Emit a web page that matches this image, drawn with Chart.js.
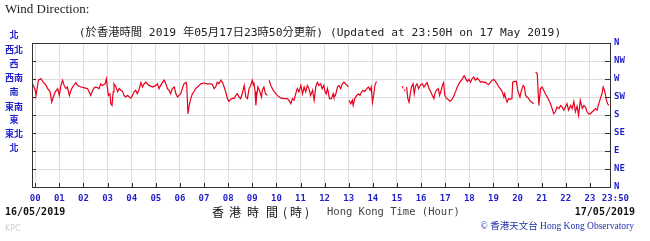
<!DOCTYPE html>
<html>
<head>
<meta charset="utf-8">
<script src="https://cdn.jsdelivr.net/npm/chart.js@4/dist/chart.umd.min.js"></script>
<style>
  html, body { margin: 0; padding: 0; background: #fff; }
  canvas { display: block; }
</style>
</head>
<body>
<canvas id="windChart" width="650" height="241"></canvas>
<script>
// minutes after 00:00 HKT, wind direction in degrees (null = no data)
var minutes = [-8, 0, 2, 8, 14, 20, 27, 31, 37, 41, 45, 50, 56, 60, 64, 68, 72, 76, 80, 85, 89, 93, 101, 105, 114, 122, 130, 134, 138, 143, 147, 151, 159, 163, 167, 174, 177, 180, 182, 186, 188, 191, 194, 196, 201, 205, 209, 213, 217, 221, 225, 230, 234, 238, 242, 246, 250, 254, 259, 263, 267, 271, 275, 283, 292, 300, 304, 308, 312, 317, 321, 325, 329, 333, 337, 341, 346, 350, 354, 358,
  362, 366, 370, 375, 377, 380, 383, 387, 391, 395, 399, 404, 408, 412, 420, 428, 437, 441, 445, 449, 453, 457, 462, 466, 470, 474, 478, 482, 486, 491, 495, 499, 503, 507, 511, 515, 520, 524, 528, 532, 536, 540, 543, 544, 547, 549, 551, 554, 559, 563, 565, 569, 573, 578, 580,
  582, 586, 590, 594, 602, 611, 619, 627, 631, 636, 640, 644, 648, 652, 656, 661, 665, 669, 673, 677, 681, 685, 690, 694, 698, 702, 706, 710, 714, 718,
  721, 724, 727, 729, 732, 737, 741, 743, 747, 752, 756, 760, 764, 768, 772, 776, 779, 780,
  781, 785, 789, 791, 795, 800, 804, 808, 812, 816, 820, 825, 829, 833, 836, 839, 842, 845, 849, 880,
  913, 914, 916, 918, 919, 921, 924, 927, 930, 933, 936, 940, 943, 946, 950, 954, 959, 963, 967, 971, 975, 979, 984, 988, 992, 994, 998, 1003, 1006, 1009, 1013, 1016, 1019, 1023, 1027, 1032, 1037, 1042, 1046, 1050, 1054, 1058, 1062, 1067, 1071, 1075, 1079,
  1083, 1087, 1091, 1095, 1100, 1104, 1108, 1112, 1116, 1120, 1124, 1128, 1133, 1137, 1141, 1145, 1149, 1153, 1157, 1162, 1166, 1168, 1171, 1174, 1178, 1182, 1186, 1188, 1192, 1197, 1201, 1206, 1209, 1214, 1217, 1220, 1224, 1228, 1232, 1236, 1240, 1243,
  1245, 1249, 1253, 1257, 1261, 1265, 1269, 1274, 1278, 1282, 1286, 1290, 1294, 1298, 1303, 1307, 1311, 1315, 1319, 1323, 1327, 1332, 1336, 1340, 1344, 1348, 1352, 1356, 1361, 1365, 1369, 1373, 1377, 1381, 1386, 1390, 1394, 1398, 1402, 1406, 1410, 1413, 1416, 1419, 1421, 1424, 1427];
var degrees = [262, 242, 229, 267, 271, 262, 254, 246, 238, 212, 225, 238, 246, 229, 254, 267, 254, 246, 250, 229, 242, 250, 261, 254, 250, 248, 246, 238, 229, 242, 248, 250, 246, 258, 254, 258, 271, 246, 229, 233, 208, 204, 238, 258, 250, 238, 246, 242, 239, 229, 225, 229, 225, 222, 229, 238, 242, 233, 246, 261, 250, 258, 262, 254, 250, 254, 258, 246, 254, 262, 267, 258, 246, 242, 233, 246, 250, 233, 225, 229,
  233, 246, 258, 262, 254, 183, 204, 221, 233, 238, 246, 250, 254, 258, 260, 258, 258, 256, 246, 250, 262, 258, 267, 261, 250, 238, 221, 214, 219, 222, 221, 229, 233, 225, 221, 233, 254, 225, 221, 246, 254, 267, 254, 262, 238, 204, 229, 250, 238, 225, 242, 250, 233, 229, null,
  267, 254, 246, 239, 229, 222, 221, 221, 217, 208, 221, 217, 233, 246, 238, 254, 233, 250, 238, 254, 246, 229, 242, 217, 250, 262, 254, 258, 246, 254,
  238, 233, 246, 238, 221, 221, 233, 225, 229, 250, 254, 246, 258, 262, 258, 254, 250, null,
  217, 208, 217, 204, 221, 229, 233, 229, 238, 242, 239, 246, 250, 242, 250, 212, 229, 254, 264, null,
  252, 250, null, 243, 242, null, 250, 221, 212, 233, 250, 258, 233, 252, 258, 246, 256, 258, 250, 256, 261, 248, 238, 229, 221, 233, 242, 246, 229, 238, 254, 261, 229, 222, 219, 214, 219, 229, 239, 250, 258, 264, 269, 278, 271, 264, 269,
  262, 271, 275, 267, 272, 267, 262, 264, 261, 262, 258, 256, 262, 267, 269, 264, 258, 250, 246, 238, 225, 233, 221, 212, 221, 219, 221, 262, 264, 264, 239, 225, 239, 254, 250, 229, 225, 221, 214, 212, 208, null,
  288, 283, 204, 246, 250, 242, 233, 225, 217, 208, 196, 183, 188, 200, 196, 204, 200, 192, 200, 208, 192, 204, 196, 214, 188, 202, 179, 217, 196, 204, 200, 188, 183, 183, 188, 192, 196, 192, 208, 221, 233, 250, 242, 229, 217, 208, 204];

var hourTicks = [0, 60, 120, 180, 240, 300, 360, 420, 480, 540, 600, 660, 720, 780, 840, 900, 960, 1020, 1080, 1140, 1200, 1260, 1320, 1380, 1430];
var hourLabels = ['00', '01', '02', '03', '04', '05', '06', '07', '08', '09', '10', '11', '12', '13', '14', '15', '16', '17', '18', '19', '20', '21', '22', '23', '  23:50'];
var dirTicks = [0, 45, 90, 135, 180, 225, 270, 315, 360];
var dirLabels = ['N', 'NE', 'E', 'SE', 'S', 'SW', 'W', 'NW', 'N'];
var dirLabelsZh = ['北', '西北', '西', '西南', '南', '東南', '東', '東北', '北'];

var blue = '#1f1fcc';
var mono = "'DejaVu Sans Mono', 'Liberation Mono', monospace";

var extras = {
  id: 'extras',
  afterDraw: function (chart) {
    var c = chart.ctx, a = chart.chartArea;
    var xs = chart.scales.x, ys = chart.scales.y;
    c.save();
    // frame
    c.strokeStyle = '#333';
    c.lineWidth = 1;
    c.strokeRect(Math.round(a.left) + 0.5, Math.round(a.top) + 0.5, Math.round(a.right - a.left), Math.round(a.bottom - a.top));
    // inner tick marks
    c.beginPath();
    dirTicks.forEach(function (v) {
      var y = Math.round(ys.getPixelForValue(v)) + 0.5;
      c.moveTo(a.left, y); c.lineTo(a.left + 4, y);
      c.moveTo(a.right - 5, y); c.lineTo(a.right, y);
    });
    hourTicks.forEach(function (v) {
      var x = Math.round(xs.getPixelForValue(v)) + 0.5;
      c.moveTo(x, a.bottom); c.lineTo(x, a.bottom - 4);
    });
    c.stroke();

    c.textBaseline = 'middle';
    // title
    c.fillStyle = '#222';
    c.textAlign = 'left';
    c.font = "13px 'Liberation Serif', serif";
    c.fillText('Wind Direction:', 5, 10);
    // update line
    c.textAlign = 'center';
    c.font = "11.3px 'DejaVu Sans Mono', 'Noto Sans CJK TC', monospace";
    c.fillText('(於香港時間 2019 年05月17日23時50分更新) (Updated at 23:50H on 17 May 2019)', 320, 33);
    // chinese direction labels on the left
    c.fillStyle = blue;
    c.font = "bold 9px 'Noto Sans CJK TC', sans-serif";
    var zhY = [35, 50, 64, 78, 92, 107, 120, 134, 148];
    dirLabelsZh.forEach(function (t, i) { c.fillText(t, 14, zhY[i]); });
    // dates
    c.fillStyle = '#111';
    c.font = 'bold 10px ' + mono;
    c.textAlign = 'left';
    c.fillText('16/05/2019', 5, 212);
    c.textAlign = 'right';
    c.fillText('17/05/2019', 635, 212);
    // axis title
    c.textAlign = 'center';
    c.font = "12px 'Noto Sans CJK TC', serif";
    var zh = [['香', 218], ['港', 235], ['時', 253], ['間', 272], ['(', 285], ['時', 296], [')', 307]];
    zh.forEach(function (p) { c.fillText(p[0], p[1], 212); });
    c.textAlign = 'left';
    c.fillStyle = '#444';
    c.font = '10.5px ' + mono;
    c.fillText('Hong Kong Time (Hour)', 327, 212);
    // credit
    c.fillStyle = '#2233aa';
    c.textAlign = 'right';
    c.font = "9.5px 'Liberation Serif', 'Noto Sans CJK TC', serif";
    c.fillText('© 香港天文台 Hong Kong Observatory', 634, 226);
    c.fillStyle = '#d0d0d0';
    c.textAlign = 'left';
    c.font = "8px 'DejaVu Sans', sans-serif";
    c.fillText('KPC', 5, 229);
    c.restore();
  }
};

new Chart(document.getElementById('windChart'), {
  type: 'line',
  data: {
    datasets: [{
      data: minutes.map(function (m, i) { return { x: m, y: degrees[i] }; }),
      borderColor: '#e8001c',
      borderWidth: 1.2,
      pointRadius: 0,
      tension: 0,
      spanGaps: false
    }]
  },
  options: {
    responsive: false,
    animation: false,
    layout: { padding: { left: 32, top: 43, right: 0, bottom: 0 } },
    plugins: { legend: { display: false }, tooltip: { enabled: false } },
    scales: {
      x: {
        type: 'linear',
        min: -8,
        max: 1430,
        afterBuildTicks: function (s) { s.ticks = hourTicks.map(function (v) { return { value: v }; }); },
        afterFit: function (s) { s.height = 54; },
        grid: { color: '#dedede', drawTicks: false },
        border: { display: false },
        ticks: {
          autoSkip: false, maxRotation: 0, padding: 6, color: blue,
          font: { family: mono, size: 9, weight: 'bold' },
          callback: function (v, i) { return hourLabels[i]; }
        }
      },
      y: {
        position: 'right',
        min: 0,
        max: 360,
        afterBuildTicks: function (s) { s.ticks = dirTicks.map(function (v) { return { value: v }; }); },
        afterFit: function (s) { s.width = 40; },
        grid: { color: '#dedede', drawTicks: false },
        border: { display: false },
        ticks: {
          padding: 4, color: blue,
          font: { family: mono, size: 9, weight: 'bold' },
          callback: function (v, i) { return dirLabels[i]; }
        }
      }
    }
  },
  plugins: [extras]
});
</script>
</body>
</html>
